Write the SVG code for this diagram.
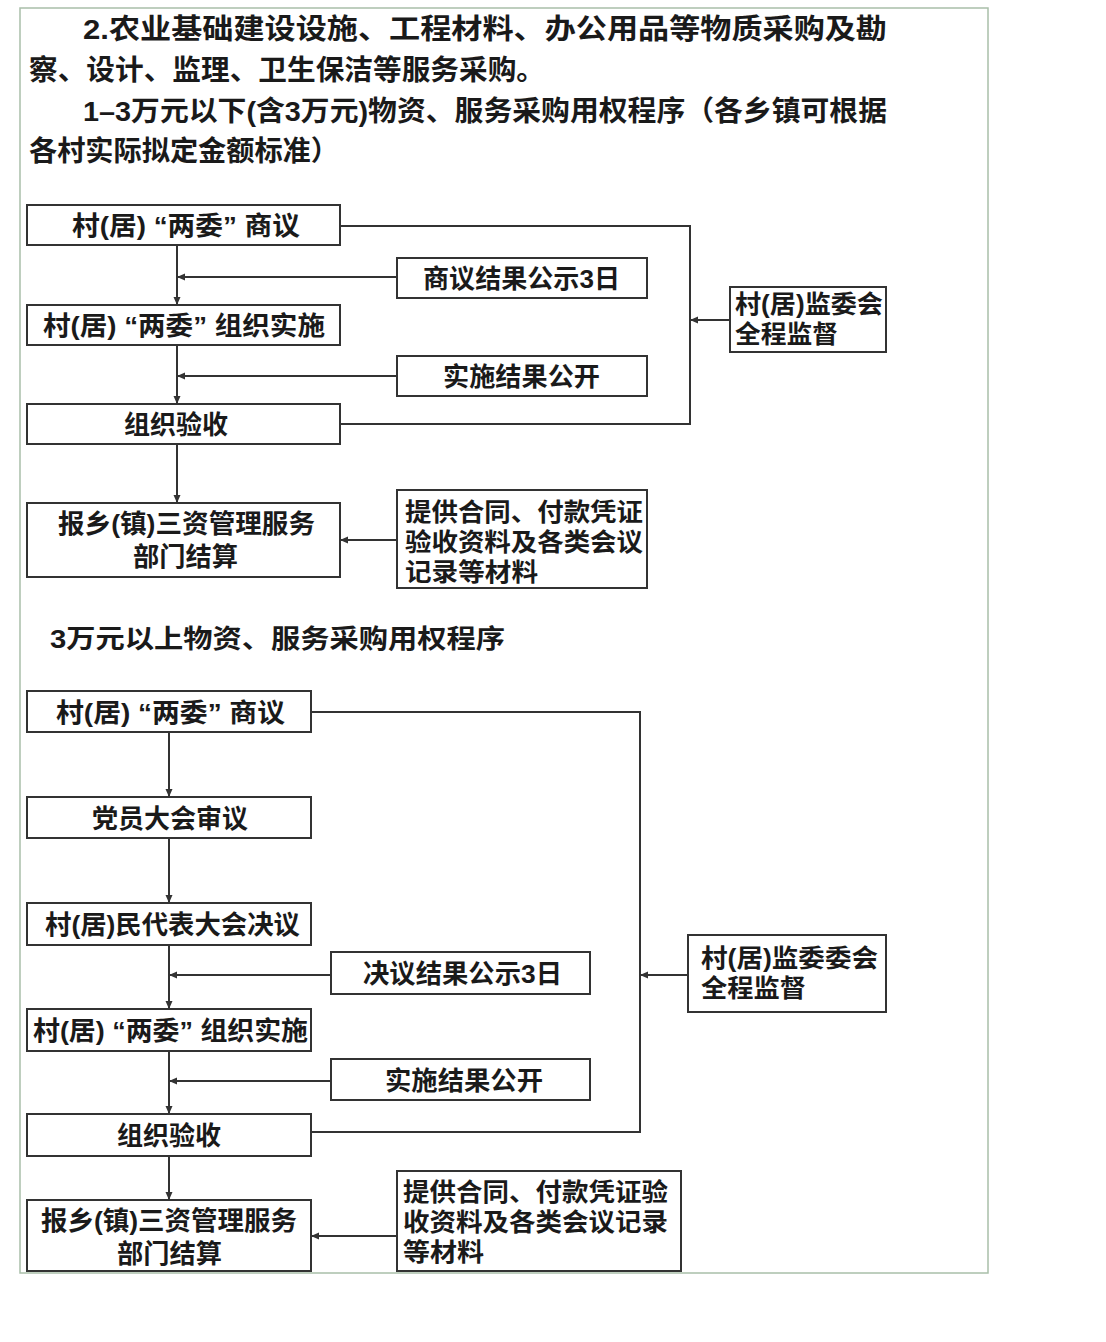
<svg xmlns="http://www.w3.org/2000/svg" width="1106" height="1342" viewBox="0 0 1106 1342">
<style>
text{font-family:"Liberation Sans","Noto Sans CJK SC",sans-serif;font-weight:bold;fill:#1a1a1a;}
.h{font-size:28px;}
.t{font-size:26px;}
.m{font-size:25px;}
.box{fill:#fff;stroke:#333;stroke-width:2;}
.c{fill:none;stroke:#333;stroke-width:2;}
.a{marker-end:url(#arr);}
</style>
<defs>
<marker id="arr" markerUnits="userSpaceOnUse" markerWidth="9" markerHeight="8" refX="8" refY="3.5" orient="auto">
<path d="M0,0 L8,3.5 L0,7 z" fill="#333"/>
</marker>
</defs>
<rect x="0" y="0" width="1106" height="1342" fill="#fff"/>
<rect x="20" y="8" width="968" height="1265" fill="none" stroke="#a9bfa9" stroke-width="1.5"/>

<g id="heading">
<text class="h" x="83" y="39" textLength="804" lengthAdjust="spacingAndGlyphs">2.农业基础建设设施、工程材料、办公用品等物质采购及勘</text>
<text class="h" x="29" y="80" textLength="516" lengthAdjust="spacingAndGlyphs">察、设计、监理、卫生保洁等服务采购。</text>
<text class="h" x="83" y="121" textLength="804" lengthAdjust="spacingAndGlyphs">1–3万元以下(含3万元)物资、服务采购用权程序（各乡镇可根据</text>
<text class="h" x="29" y="161" textLength="310" lengthAdjust="spacingAndGlyphs">各村实际拟定金额标准）</text>
<text class="t" x="50" y="648" textLength="455" lengthAdjust="spacingAndGlyphs">3万元以上物资、服务采购用权程序</text>
</g>

<g id="connectors">
<line class="c a" x1="177" y1="245" x2="177" y2="305"/>
<line class="c a" x1="397" y1="277" x2="177" y2="277"/>
<line class="c a" x1="177" y1="345" x2="177" y2="404"/>
<line class="c a" x1="397" y1="376" x2="177" y2="376"/>
<line class="c a" x1="177" y1="444" x2="177" y2="503"/>
<line class="c a" x1="397" y1="540" x2="340" y2="540"/>
<polyline class="c" points="340,226 690,226 690,424 340,424"/>
<line class="c a" x1="730" y1="320" x2="690" y2="320"/>

<line class="c a" x1="169" y1="732" x2="169" y2="797"/>
<line class="c a" x1="169" y1="838" x2="169" y2="903"/>
<line class="c a" x1="169" y1="945" x2="169" y2="1009"/>
<line class="c a" x1="331" y1="975" x2="169" y2="975"/>
<line class="c a" x1="169" y1="1051" x2="169" y2="1114"/>
<line class="c a" x1="331" y1="1081" x2="169" y2="1081"/>
<line class="c a" x1="169" y1="1156" x2="169" y2="1200"/>
<line class="c a" x1="397" y1="1236" x2="311" y2="1236"/>
<polyline class="c" points="311,712 640,712 640,1132 311,1132"/>
<line class="c a" x1="688" y1="975" x2="640" y2="975"/>
</g>

<g id="s1-shangyi"><rect class="box" x="27" y="205" width="313" height="40"/>
<text class="t" x="72" y="235" textLength="228" lengthAdjust="spacingAndGlyphs">村(居) “两委” 商议</text></g>
<g id="s1-gongshi"><rect class="box" x="397" y="258" width="250" height="40"/>
<text class="t" x="423" y="288" textLength="197" lengthAdjust="spacingAndGlyphs">商议结果公示3日</text></g>
<g id="s1-shishi"><rect class="box" x="27" y="305" width="313" height="40"/>
<text class="t" x="43" y="335" textLength="282" lengthAdjust="spacingAndGlyphs">村(居) “两委” 组织实施</text></g>
<g id="s1-gongkai"><rect class="box" x="397" y="356" width="250" height="40"/>
<text class="t" x="443" y="386" textLength="157" lengthAdjust="spacingAndGlyphs">实施结果公开</text></g>
<g id="s1-yanshou"><rect class="box" x="27" y="404" width="313" height="40"/>
<text class="t" x="124" y="434" textLength="104" lengthAdjust="spacingAndGlyphs">组织验收</text></g>
<g id="s1-jiesuan"><rect class="box" x="27" y="503" width="313" height="74"/>
<text class="t" x="58" y="533" textLength="257" lengthAdjust="spacingAndGlyphs">报乡(镇)三资管理服务</text>
<text class="t" x="133" y="566" textLength="105" lengthAdjust="spacingAndGlyphs">部门结算</text></g>
<g id="s1-cailiao"><rect class="box" x="397" y="490" width="250" height="98"/>
<text class="m" x="405" y="521" textLength="238" lengthAdjust="spacingAndGlyphs">提供合同、付款凭证</text>
<text class="m" x="405" y="551" textLength="238" lengthAdjust="spacingAndGlyphs">验收资料及各类会议</text>
<text class="m" x="405" y="581" textLength="133" lengthAdjust="spacingAndGlyphs">记录等材料</text></g>
<g id="s1-jianwei"><rect class="box" x="730" y="287" width="156" height="65"/>
<text class="m" x="735" y="313" textLength="148" lengthAdjust="spacingAndGlyphs">村(居)监委会</text>
<text class="m" x="735" y="343" textLength="103" lengthAdjust="spacingAndGlyphs">全程监督</text></g>

<g id="s2-shangyi"><rect class="box" x="27" y="691" width="284" height="41"/>
<text class="t" x="56" y="722" textLength="229" lengthAdjust="spacingAndGlyphs">村(居) “两委” 商议</text></g>
<g id="s2-dangyuan"><rect class="box" x="27" y="797" width="284" height="41"/>
<text class="t" x="92" y="828" textLength="156" lengthAdjust="spacingAndGlyphs">党员大会审议</text></g>
<g id="s2-daibiao"><rect class="box" x="27" y="903" width="284" height="42"/>
<text class="t" x="45" y="934" textLength="255" lengthAdjust="spacingAndGlyphs">村(居)民代表大会决议</text></g>
<g id="s2-gongshi"><rect class="box" x="331" y="952" width="259" height="42"/>
<text class="t" x="363" y="983" textLength="199" lengthAdjust="spacingAndGlyphs">决议结果公示3日</text></g>
<g id="s2-jianwei"><rect class="box" x="688" y="935" width="198" height="77"/>
<text class="m" x="701" y="967" textLength="177" lengthAdjust="spacingAndGlyphs">村(居)监委委会</text>
<text class="m" x="701" y="997" textLength="105" lengthAdjust="spacingAndGlyphs">全程监督</text></g>
<g id="s2-shishi"><rect class="box" x="27" y="1009" width="284" height="42"/>
<text class="t" x="33" y="1040" textLength="275" lengthAdjust="spacingAndGlyphs">村(居) “两委” 组织实施</text></g>
<g id="s2-gongkai"><rect class="box" x="331" y="1059" width="259" height="41"/>
<text class="t" x="385" y="1090" textLength="158" lengthAdjust="spacingAndGlyphs">实施结果公开</text></g>
<g id="s2-yanshou"><rect class="box" x="27" y="1114" width="284" height="42"/>
<text class="t" x="117" y="1145" textLength="104" lengthAdjust="spacingAndGlyphs">组织验收</text></g>
<g id="s2-jiesuan"><rect class="box" x="27" y="1200" width="284" height="71"/>
<text class="t" x="41" y="1230" textLength="256" lengthAdjust="spacingAndGlyphs">报乡(镇)三资管理服务</text>
<text class="t" x="117" y="1263" textLength="105" lengthAdjust="spacingAndGlyphs">部门结算</text></g>
<g id="s2-cailiao"><rect class="box" x="397" y="1171" width="284" height="100"/>
<text class="m" x="403" y="1201" textLength="265" lengthAdjust="spacingAndGlyphs">提供合同、付款凭证验</text>
<text class="m" x="403" y="1231" textLength="265" lengthAdjust="spacingAndGlyphs">收资料及各类会议记录</text>
<text class="m" x="403" y="1261" textLength="81" lengthAdjust="spacingAndGlyphs">等材料</text></g>
</svg>
